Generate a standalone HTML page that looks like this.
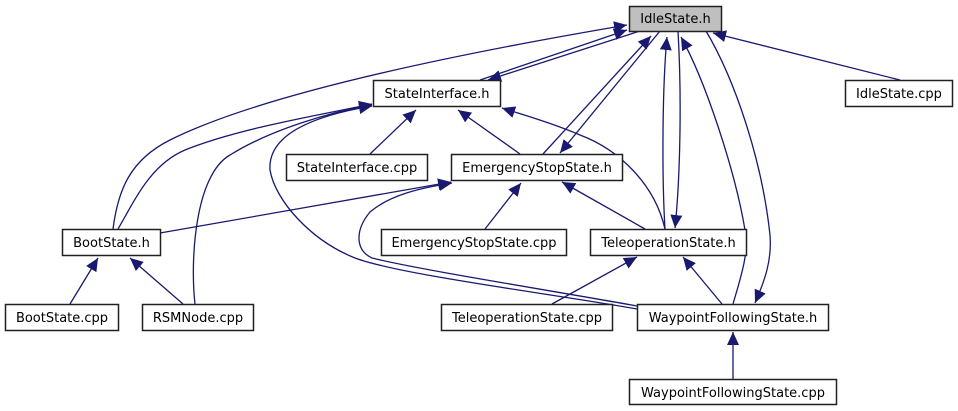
<!DOCTYPE html>
<html><head><meta charset="utf-8"><style>
html,body{margin:0;padding:0;background:#fff;}
svg{display:block;}
text{font-family:"DejaVu Sans","Liberation Sans",sans-serif;font-size:13px;fill:#000;}
</style></head><body>
<svg width="958" height="411" viewBox="0 0 958 411" xmlns="http://www.w3.org/2000/svg">
<defs>
<marker id="a" markerUnits="userSpaceOnUse" markerWidth="14" markerHeight="12" refX="13" refY="6" orient="auto">
<path d="M0,0 L13,6 L0,12 Z" fill="#191970"/>
</marker>
</defs>
<g fill="none" stroke="#191970" stroke-width="1.3" marker-end="url(#a)">
<path d="M113,229 C118,190 130,160 170,140 C260,95 450,55 627,25"/>
<path d="M118,229 C135,200 150,165 185,150 C240,128 320,115 372,104"/>
<path d="M195,304 C190,260 195,175 230,155 C270,130 330,112 372,105"/>
<path d="M637,309 C560,295 400,275 355,258 C310,240 275,200 270,170 C268,140 300,118 372,106"/>
<path d="M160,233 L451,182"/>
<path d="M637,306 C560,292 420,270 372,258 C355,250 355,230 370,212 C390,195 420,188 452,183"/>
<path d="M480,80 L627,30"/>
<path d="M640,31 L488,80"/>
<path d="M370,154 L416,110"/>
<path d="M520,154 L458,110"/>
<path d="M665,229 C655,185 620,150 580,135 C550,122 520,114 502,108"/>
<path d="M543,154 L651,36"/>
<path d="M660,31 L560,153"/>
<path d="M665,229 C662,180 662,90 667,37"/>
<path d="M678,31 C682,100 680,180 675,228"/>
<path d="M733,304 C740,280 750,250 745,230 C735,170 705,80 681,37"/>
<path d="M706,31 C735,80 762,160 770,235 C772,260 765,280 755,303"/>
<path d="M900,80 L713,33"/>
<path d="M485,229 L521,183"/>
<path d="M645,229 L562,182"/>
<path d="M70,304 L98,258"/>
<path d="M183,304 L130,258"/>
<path d="M552,304 L637,257"/>
<path d="M722,304 L683,257"/>
<path d="M733,379 L733,332"/>
</g>
<g stroke="#202020" stroke-width="1.5">
<rect x="629.5" y="6.5" width="92" height="25" fill="#bfbfbf"/>
<rect x="373.5" y="80.5" width="127" height="26" fill="#fff"/>
<rect x="845.5" y="80.5" width="107" height="26" fill="#fff"/>
<rect x="286.5" y="154.5" width="141" height="26" fill="#fff"/>
<rect x="451.5" y="154.5" width="171" height="26" fill="#fff"/>
<rect x="62.5" y="229.5" width="98" height="26" fill="#fff"/>
<rect x="381.5" y="229.5" width="185" height="26" fill="#fff"/>
<rect x="590.5" y="229.5" width="156" height="26" fill="#fff"/>
<rect x="5.5" y="304.5" width="113" height="26" fill="#fff"/>
<rect x="142.5" y="304.5" width="111" height="26" fill="#fff"/>
<rect x="441.5" y="304.5" width="171" height="26" fill="#fff"/>
<rect x="637.5" y="304.5" width="191" height="26" fill="#fff"/>
<rect x="629.5" y="379.5" width="207" height="25" fill="#fff"/>
</g>
<g text-anchor="middle">
<text x="675.5" y="23">IdleState.h</text>
<text x="437" y="98">StateInterface.h</text>
<text x="899" y="98">IdleState.cpp</text>
<text x="357" y="172">StateInterface.cpp</text>
<text x="537" y="172">EmergencyStopState.h</text>
<text x="111.5" y="247">BootState.h</text>
<text x="474" y="247">EmergencyStopState.cpp</text>
<text x="668.5" y="247">TeleoperationState.h</text>
<text x="62" y="322">BootState.cpp</text>
<text x="198" y="322">RSMNode.cpp</text>
<text x="527" y="322">TeleoperationState.cpp</text>
<text x="733" y="322">WaypointFollowingState.h</text>
<text x="733" y="397">WaypointFollowingState.cpp</text>
</g>
</svg>
</body></html>
